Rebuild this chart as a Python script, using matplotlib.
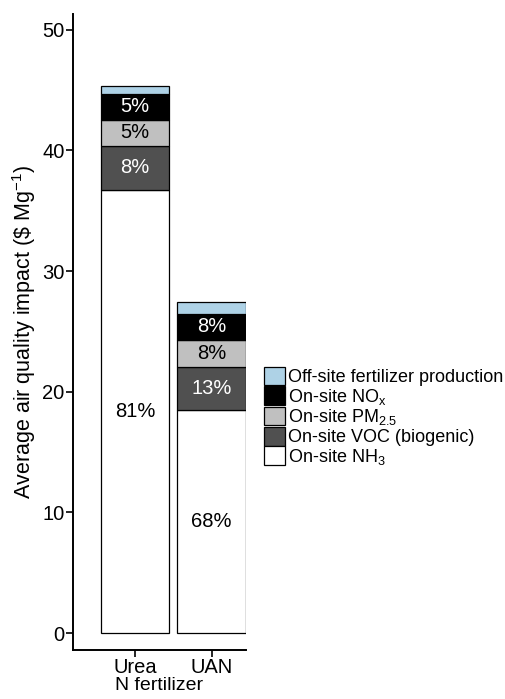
import matplotlib
matplotlib.use("Agg")
import matplotlib.pyplot as plt
import numpy as np

plt.rcParams['font.family'] = ['Liberation Sans', 'DejaVu Sans']
plt.rcParams['mathtext.default'] = 'regular'

categories = ["Urea", "UAN"]
components = ["On-site NH$_3$", "On-site VOC (biogenic)", "On-site PM$_{2.5}$",
              "On-site NO$_x$", "Off-site fertilizer production"]
nh3 = [36.75, 18.49]
voc = [3.65, 3.59]
pm25 = [2.15, 2.20]
nox = [2.15, 2.19]
offsite = [0.66, 0.99]
pct_labels = {
    "On-site NH$_3$": ["81%", "68%"],
    "On-site VOC (biogenic)": ["8%", "13%"],
    "On-site PM$_{2.5}$": ["5%", "8%"],
    "On-site NO$_x$": ["5%", "8%"],
}
colors = ["#ffffff", "#505050", "#c0c0c0", "#000000", "#aed2e6"]
text_colors = ["black", "white", "black", "white", None]

series = [nh3, voc, pm25, nox, offsite]

fig = plt.figure(figsize=(5.06, 6.99), dpi=100)
ax = fig.add_axes([73/506, 49/699, (246-73)/506, (650-14)/699])

x = np.arange(1, len(categories) + 1)
bottom = np.zeros(len(categories))
handles = []
for name, vals, col, tc in zip(components, series, colors, text_colors):
    vals = np.array(vals)
    b = ax.bar(x, vals, width=0.89, bottom=bottom, color=col,
               edgecolor="black", linewidth=0.9, label=name)
    handles.append(b)
    if name in pct_labels:
        for xi, bi, vi, lab in zip(x, bottom, vals, pct_labels[name]):
            ax.text(xi, bi + vi / 2, lab, ha="center", va="center",
                    color=tc, fontsize=14.5)
    bottom = bottom + vals

ax.set_xlim(0.19, 2.45)
ax.set_ylim(-1.4, 51.3)
ax.set_yticks([0, 10, 20, 30, 40, 50])
ax.set_xticks(x)
ax.set_xticklabels(categories)
ax.tick_params(axis="both", labelsize=14.5, length=5, width=1.2, color="black",
               labelcolor="black")
ax.tick_params(axis="y", pad=1)
ax.tick_params(axis="x", pad=1)
for s in ["top", "right"]:
    ax.spines[s].set_visible(False)
for s in ["left", "bottom"]:
    ax.spines[s].set_linewidth(1.4)

ax.set_ylabel(r"Average air quality impact (\$ Mg$^{-1}$)", fontsize=15.5, labelpad=3)
ax.set_xlabel("N fertilizer", fontsize=14, labelpad=0)

leg = fig.legend(handles[::-1], components[::-1], loc="upper left",
                 bbox_to_anchor=(260/506, 1 - 363/699), frameon=False,
                 fontsize=13, labelspacing=0.0, handlelength=1.2,
                 handleheight=1.22, handletextpad=0.15, borderaxespad=0,
                 borderpad=0.2)

fig.savefig("out.png", dpi=100)
